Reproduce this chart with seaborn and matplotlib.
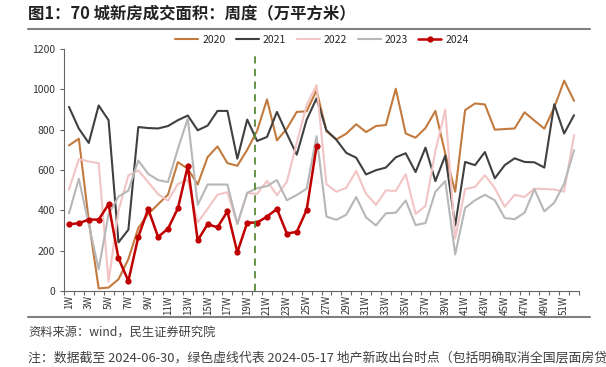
import matplotlib
matplotlib.use("Agg")
import matplotlib.pyplot as plt
import seaborn as sns
import pandas as pd
import numpy as np
from matplotlib.lines import Line2D

weeks = [f"{i}W" for i in range(1, 53)]

v2020 = [722, 755, 350, 13, 17, 58, 158, 312, 382, 430, 478, 639, 606, 528, 664, 717, 634, 621, 700, 795,
         950, 747, 805, 888, 891, 995, 792, 752, 780, 827, 788, 818, 823, 1003, 781, 760, 808, 893, 680, 492,
         897, 930, 925, 800, 803, 806, 886, 845, 805, 910, 1043, 943]
v2021 = [913, 805, 734, 920, 847, 241, 304, 813, 808, 806, 818, 847, 870, 797, 820, 893, 893, 656, 850, 744,
         764, 888, 780, 676, 849, 955, 797, 750, 685, 661, 578, 599, 612, 663, 683, 590, 711, 545, 672, 325,
         640, 624, 689, 559, 624, 658, 640, 638, 612, 926, 781, 872]
v2022 = [503, 654, 642, 634, 46, 398, 573, 598, 540, 480, 448, 531, 551, 340, 407, 478, 490, 332, 485, 482,
         546, 475, 541, 735, 922, 1021, 529, 492, 512, 595, 482, 427, 499, 496, 579, 382, 422, 694, 900, 260,
         505, 516, 574, 510, 418, 477, 466, 507, 506, 503, 493, 773]
v2023 = [385, 556, 330, 108, 382, 468, 498, 647, 581, 550, 540, 705, 855, 427, 528, 528, 528, 332, 487, 510,
         520, 550, 450, 476, 507, 768, 369, 353, 378, 466, 365, 325, 385, 388, 449, 327, 337, 492, 545, 181,
         412, 450, 477, 450, 362, 356, 388, 505, 395, 438, 532, 698]
v2024 = [331, 336, 354, 354, 430, 162, 50, 268, 407, 268, 309, 410, 620, 251, 331, 316, 395, 192, 339, 339,
         369, 407, 285, 293, 402, 717]

series = {"2020": v2020, "2021": v2021, "2022": v2022, "2023": v2023, "2024": v2024}
colors = {"2020": "#C27A3E", "2021": "#404040", "2022": "#F2C4C4", "2023": "#B7B7B7", "2024": "#C00000"}

rows = []
for yr, vals in series.items():
    for i, v in enumerate(vals):
        rows.append({"week": i, "value": v, "year": yr})
df = pd.DataFrame(rows)

sns.set_theme(style="ticks")
plt.rcParams['font.family'] = ['Noto Sans CJK SC', 'DejaVu Sans']

fig = plt.figure(figsize=(6.06, 3.67), dpi=100)
ax = fig.add_axes([64/606, 1-291/367, 515/606, 242/367])

for yr in ["2020", "2021", "2022", "2023"]:
    sns.lineplot(data=df[df.year == yr], x="week", y="value", color=colors[yr], lw=1.5, ax=ax, legend=False)
sns.lineplot(data=df[df.year == "2024"], x="week", y="value", color=colors["2024"], lw=1.8,
             marker="o", markersize=4.5, markeredgewidth=0, ax=ax, legend=False)

ax.axvline(18.8, color="#5A8A3A", lw=1.3, ls=(0, (4, 3)), ymin=0, ymax=0.985)

ax.set_xlim(-0.5, 51.5)
ax.set_ylim(0, 1200)
ax.set_yticks(range(0, 1201, 200))
ax.set_xticks(range(0, 52, 2))
ax.set_xticklabels(weeks[0::2], rotation=90, fontsize=7, color="#333333")
ax.set_xticks(np.arange(-0.5, 52, 1), minor=True)
ax.tick_params(axis="x", which="major", length=0, pad=3)
ax.tick_params(axis="x", which="minor", length=3, width=0.8, color="#666666")
ax.tick_params(axis="y", length=3, width=0.8, color="#666666", labelsize=7.5, labelcolor="#333333")
ax.set_xlabel("")
ax.set_ylabel("")
sns.despine(ax=ax)
for s in ["left", "bottom"]:
    ax.spines[s].set_color("#666666")
    ax.spines[s].set_linewidth(0.8)

handles = []
for yr in ["2020", "2021", "2022", "2023"]:
    handles.append(Line2D([0], [0], color=colors[yr], lw=1.5, label=yr))
handles.append(Line2D([0], [0], color=colors["2024"], lw=1.8, marker="o", markersize=4.5,
                      markeredgewidth=0, label="2024"))
fig.legend(handles=handles, loc="center", bbox_to_anchor=(322/606, 1-40/367), ncol=5, frameon=False,
           fontsize=7.5, handlelength=2.2, columnspacing=1.0, handletextpad=0.4)

fig.text(28/606, 1-14/367, "图1：70 城新房成交面积：周度（万平方米）", fontsize=11.8, fontweight="bold",
         va="center", ha="left", color="#222222")
fig.add_artist(Line2D([28/606, 590/606], [1-29/367, 1-29/367], color="#808080", lw=1.5))
fig.add_artist(Line2D([28/606, 590/606], [1-317/367, 1-317/367], color="#808080", lw=1.5))
fig.text(28/606, 1-333/367, "资料来源：wind，民生证券研究院", fontsize=8.8, va="center", ha="left", color="#404040")
fig.text(28/606, 1-358/367, "注：数据截至 2024-06-30，绿色虚线代表 2024-05-17 地产新政出台时点（包括明确取消全国层面房贷",
         fontsize=9.3, va="center", ha="left", color="#404040")

fig.savefig("out.png", dpi=100)
